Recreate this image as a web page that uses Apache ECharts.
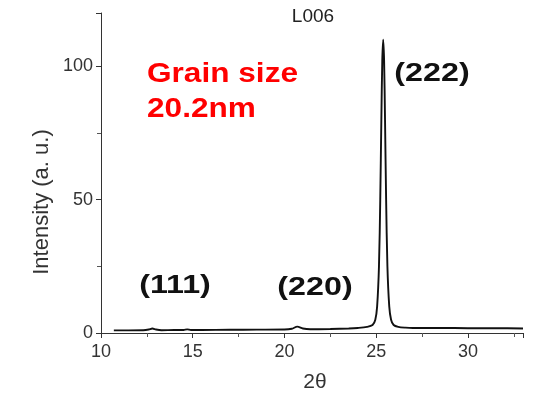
<!DOCTYPE html>
<html>
<head>
<meta charset="utf-8">
<title>XRD L006</title>
<script src="https://cdn.jsdelivr.net/npm/echarts@6/dist/echarts.min.js"></script>
<style>
  html, body { margin: 0; padding: 0; background: #fff; }
  #chart { width: 533px; height: 397px; }
</style>
</head>
<body>
<div id="chart"></div>
<script>
// 2theta positions and intensities
var twoTheta = [10.7, 11.5, 12.3, 12.6, 12.8, 13.0, 13.3, 14.0, 14.5, 14.7, 14.9, 15.5, 17.0, 18.5, 20.0, 20.4, 20.7, 21.0, 21.4, 22.5, 23.5, 24.0, 24.5, 24.8, 24.95, 25.05, 25.15, 25.22, 25.28, 25.33, 25.38, 25.43, 25.48, 25.54, 25.61, 25.71, 25.81, 25.95, 26.2, 26.6, 27.0, 28.5, 30.0, 31.5, 33.0];
var intensity = [1.0, 1.0, 1.05, 1.3, 1.7, 1.3, 1.05, 1.1, 1.15, 1.35, 1.15, 1.15, 1.2, 1.25, 1.3, 1.6, 2.4, 1.7, 1.4, 1.5, 1.7, 1.9, 2.3, 3.0, 5.0, 10, 25, 50, 80, 102, 110, 102, 80, 50, 25, 10, 5, 3, 2.3, 2.0, 1.9, 1.9, 1.8, 1.8, 1.7];
var xTicks = [10, 15, 20, 25, 30];
var yTicks = [0, 50, 100];
var peakLabels = ['(111)', '(220)', '(222)'];
var sampleName = 'L006';
var grainText = ['Grain size', '20.2nm'];

var points = twoTheta.map(function (x, i) { return [x, intensity[i]]; });

var chart = echarts.init(document.getElementById('chart'));
var font = 'Liberation Sans, Arial, sans-serif';

// bold labels in the original look a bit stretched sideways
function boldLabel(text, x, y, color) {
  return {
    type: 'text', x: x, y: y, scaleX: 1.24,
    style: { text: text, fontFamily: font, fontSize: 26, fontWeight: 'bold', fill: color, align: 'center', verticalAlign: 'middle' }
  };
}

chart.setOption({
  animation: false,
  grid: { left: 101, right: 10, top: 13, bottom: 64 },
  xAxis: {
    type: 'value', min: 10, max: 33, interval: 5,
    axisLine: { show: true, lineStyle: { color: '#333', width: 1 } },
    axisTick: { show: true, inside: false, length: 5, lineStyle: { color: '#333' } },
    minorTick: { show: true, splitNumber: 2, length: 4, lineStyle: { color: '#555' } },
    splitLine: { show: false },
    axisLabel: {
      fontFamily: font, fontSize: 18, color: '#333', margin: 10,
      formatter: function (v) { return xTicks.indexOf(v) >= 0 ? String(v) : ''; }
    }
  },
  yAxis: {
    type: 'value', min: 0, max: 120, interval: 50,
    axisLine: { show: true, onZero: false, lineStyle: { color: '#333', width: 1 } },
    axisTick: { show: true, inside: false, length: 5, lineStyle: { color: '#333' } },
    minorTick: { show: true, splitNumber: 2, length: 4, lineStyle: { color: '#555' } },
    splitLine: { show: false },
    axisLabel: {
      fontFamily: font, fontSize: 18, color: '#333', margin: 8,
      formatter: function (v) { return yTicks.indexOf(v) >= 0 ? String(v) : ''; }
    }
  },
  series: [{
    type: 'line',
    data: points,
    showSymbol: false,
    smooth: 0.3,
    lineStyle: { color: '#111', width: 1.9 }
  }],
  graphic: [
    { type: 'text', x: 313, y: 17, style: { text: sampleName, fontFamily: font, fontSize: 19, fill: '#222', align: 'center', verticalAlign: 'middle' } },
    { type: 'text', x: 42, y: 202, rotation: Math.PI / 2, style: { text: 'Intensity (a. u.)', fontFamily: font, fontSize: 22, fill: '#333', align: 'center', verticalAlign: 'middle' } },
    { type: 'text', x: 315, y: 382, style: { text: '2θ', fontFamily: font, fontSize: 21, fill: '#333', align: 'center', verticalAlign: 'middle' } },
    { type: 'text', x: 147, y: 57, scaleX: 1.17, style: { text: grainText.join('\n'), fontFamily: font, fontSize: 27, fontWeight: 'bold', fill: '#ff0000', lineHeight: 35 } },
    boldLabel(peakLabels[0], 175, 286, '#111'),
    boldLabel(peakLabels[1], 315, 288, '#111'),
    boldLabel(peakLabels[2], 432, 74, '#111')
  ]
});
</script>
</body>
</html>
